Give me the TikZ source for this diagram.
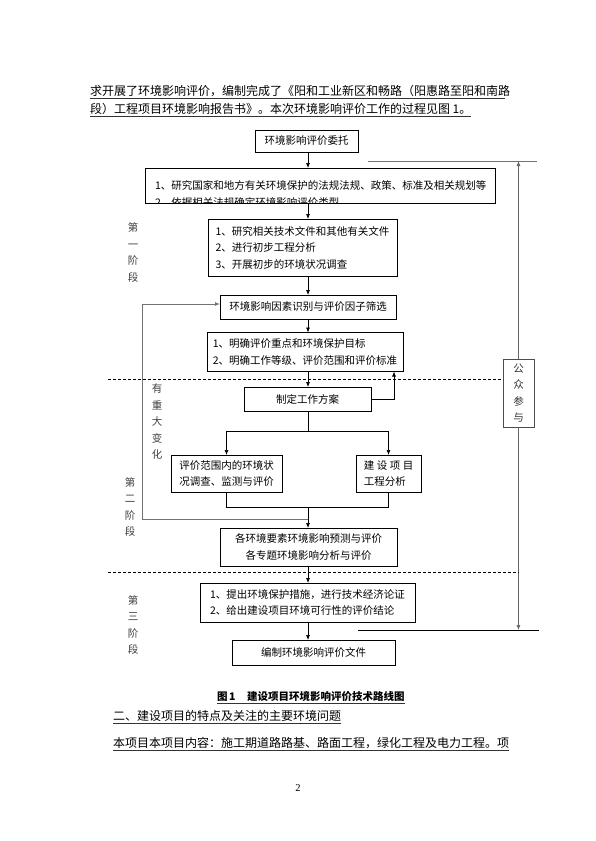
\documentclass[tikz,border=0pt]{standalone}
\usepackage{fontspec}
\newfontfamily\cjk{Noto Sans CJK SC}
\setmainfont{Liberation Serif}
\usetikzlibrary{arrows.meta}
\begin{document}
\begin{tikzpicture}[x=1pt,y=-1pt,
  every node/.style={inner sep=0pt, outer sep=0pt},
  box/.style={draw, line width=0.8pt, font=\cjk\fontsize{10.5}{16.5}\selectfont},
  txt/.style={font=\cjk\fontsize{10.5}{16.5}\selectfont},
  body/.style={font=\cjk\fontsize{12}{14}\selectfont, anchor=west},
  stage/.style={font=\cjk\fontsize{10.5}{16.5}\selectfont, align=center, text=black!75},
  arr/.style={-{Latex[length=5pt,width=4pt]}, line width=0.7pt},
  ln/.style={line width=0.7pt},
  grayln/.style={line width=0.9pt, draw=black!55},
  dashln/.style={line width=0.6pt, dash pattern=on 3pt off 2pt},
  uline/.style={line width=0.5pt, draw=black!80}
]
\useasboundingbox (0,0) rectangle (595,841);
\fill[white] (0,0) rectangle (595,841);

% body text above
\node[body] (t1) at (90,91) {求开展了环境影响评价，编制完成了《阳和工业新区和畅路（阳惠路至阳和南路};
\node[body] (t2) at (90,109) {段）工程项目环境影响报告书》。本次环境影响评价工作的过程见图 1。};
\draw[uline] (t1.west |- 0,98.5) -- (505,98.5);
\draw[uline] (t2.west |- 0,116) -- (t2.east |- 0,116);

% boxes
\node[box, minimum width=103pt, minimum height=22pt] (b1) at (306.5,141) {环境影响评价委托};
\begin{scope}
  \clip (145,168) rectangle (495,202);
  \node[txt, anchor=west, align=left] (b2t) at (155,194) {1、研究国家和地方有关环境保护的法规法规、政策、标准及相关规划等\\2、依据相关法规确定环境影响评价类型};
\end{scope}
\node[box, minimum width=350pt, minimum height=35pt] (b2) at (320,185.5) {};
\node[box, minimum width=189pt, minimum height=57pt, align=left] (b3) at (302.5,247.5) {1、研究相关技术文件和其他有关文件\\2、进行初步工程分析\\3、开展初步的环境状况调查};
\node[box, minimum width=176pt, minimum height=24pt] (b4) at (308,307) {环境影响因素识别与评价因子筛选};
\node[box, minimum width=196pt, minimum height=39pt, align=left] (b5) at (305,352) {1、明确评价重点和环境保护目标\\2、明确工作等级、评价范围和评价标准};
\node[box, minimum width=127pt, minimum height=24pt] (b6) at (307.5,399) {制定工作方案};
\node[box, minimum width=111pt, minimum height=37pt, align=left, font=\cjk\fontsize{10.5}{15.5}\selectfont] (b7) at (226.5,473.5) {评价范围内的环境状\\况调查、监测与评价};
\node[box, minimum width=65pt, minimum height=37pt, align=left, font=\cjk\fontsize{10.5}{15.5}\selectfont] (b8) at (388.5,473.5) {建\hspace{2.5pt}设\hspace{2.5pt}项\hspace{2.5pt}目\\工程分析};
\node[box, minimum width=177pt, minimum height=38pt, align=center] (b9) at (308.5,547) {各环境要素环境影响预测与评价\\各专题环境影响分析与评价};
\node[box, minimum width=215pt, minimum height=39pt, align=left] (b10) at (307.5,602.5) {1、提出环境保护措施，进行技术经济论证\\2、给出建设项目环境可行性的评价结论};
\node[box, minimum width=163pt, minimum height=25pt] (b11) at (313.5,652.5) {编制环境影响评价文件};
\node[box, draw=black!70, minimum width=31pt, minimum height=68pt, align=center, font=\cjk\fontsize{10.5}{16.3}\selectfont, text=black!80] (pp) at (518.5,393) {公\\众\\参\\与};

% stage labels
\node[stage] (s1) at (133,252.5) {第\\一\\阶\\段};
\node[stage] (s2) at (130,507) {第\\二\\阶\\段};
\node[stage] (s3) at (133,625) {第\\三\\阶\\段};
\node[stage] (chg) at (157,422) {有\\重\\大\\变\\化};

% main flow
\draw[arr] (b1.south -| b4) -- (b2.north -| b4);
\draw[arr] (b2.south -| b4) -- (b3.north -| b4);
\draw[arr] (b3.south -| b4) -- (b4.north);
\draw[arr] (b4.south) -- (b5.north -| b4);
\draw[arr] (b5.south -| b4) -- (b6.north -| b4);
\coordinate (split) at (308,431);
\draw[ln] (b6.south -| b4) -- (split);
\draw[ln] (b7.north |- split) -- (b8.north |- split);
\draw[arr] (b7.north |- split) -- (b7.north);
\draw[arr] (b8.north |- split) -- (b8.north);
\coordinate (join) at (308,507);
\draw[ln] (b7.south) -- (b7.south |- join) -- (b8.south |- join) -- (b8.south);
\draw[arr] (join) -- (b9.north -| b4);
\draw[arr] (b9.south -| b4) -- (b10.north -| b4);
\draw[arr] (b10.south -| b4) -- (b11.north -| b4);

% loop back from work plan to b5
\coordinate (rt) at (394,399);
\draw[arr] (b6.east) -- (rt) -- (b5.south -| rt);

% feedback loop (major change)
\coordinate (fbA) at (308,519);
\coordinate (fbB) at (142,519);
\coordinate (fbC) at (142,304);
\draw[grayln] (fbA) -- (fbB) -- (fbC);
\draw[arr, draw=black!55, line width=0.9pt] (fbC) -- (fbC -| b4.west);

% public participation
\coordinate (topL) at (368,161);
\coordinate (topR) at (537,161);
\draw[grayln] (topL) -- (topR);
\draw[arr, draw=black!60] (pp.north) -- (pp.north |- topL);
\coordinate (botL) at (358,630);
\coordinate (botR) at (539,630);
\draw[ln] (botL) -- (botR);
\draw[arr, draw=black!60] (pp.south) -- (pp.south |- botL);

% dashed stage separators
\coordinate (d1) at (108,379);
\coordinate (d2) at (108,572);
\draw[dashln] (d1) -- (d1 -| pp.west);
\draw[dashln] (d2) -- (d2 -| pp.south);

% caption and following text
\node[font=\cjk\bfseries\fontsize{10.5}{12}\selectfont, anchor=west] (cap) at (217,697) {图\,1\hspace{1.1em}建设项目环境影响评价技术路线图};
\draw[uline] (cap.west |- 0,703) -- (cap.east |- 0,703);
\node[body] (h2) at (113,716) {二、建设项目的特点及关注的主要环境问题};
\draw[uline] (h2.west |- 0,723) -- (h2.east |- 0,723);
\node[body] (t3) at (113,743) {本项目本项目内容：施工期道路路基、路面工程，绿化工程及电力工程。项};
\draw[uline] (t3.west |- 0,750) -- (t3.east |- 0,750);
\node[font=\fontsize{10.5}{12}\selectfont] (pg) at (298,788) {2};
\end{tikzpicture}
\end{document}
